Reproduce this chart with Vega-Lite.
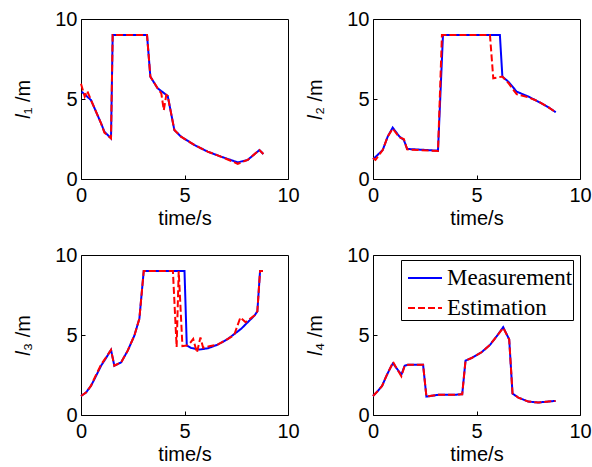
{
  "$schema": "https://vega.github.io/schema/vega-lite/v6.json",
  "autosize": {"type": "pad"},
  "padding": {"left": 13, "top": 8, "right": 0, "bottom": 0},
  "background": "white",
  "datasets": {
    "d": [
      {"p": 1, "s": "Measurement", "t": 0.03, "v": 5.46},
      {"p": 1, "s": "Measurement", "t": 0.48, "v": 4.94},
      {"p": 1, "s": "Measurement", "t": 0.97, "v": 3.48},
      {"p": 1, "s": "Measurement", "t": 1.13, "v": 2.96},
      {"p": 1, "s": "Measurement", "t": 1.45, "v": 2.54},
      {"p": 1, "s": "Measurement", "t": 1.53, "v": 9.0},
      {"p": 1, "s": "Measurement", "t": 3.19, "v": 9.0},
      {"p": 1, "s": "Measurement", "t": 3.35, "v": 6.4},
      {"p": 1, "s": "Measurement", "t": 3.7, "v": 5.67},
      {"p": 1, "s": "Measurement", "t": 4.19, "v": 5.19},
      {"p": 1, "s": "Measurement", "t": 4.51, "v": 3.06},
      {"p": 1, "s": "Measurement", "t": 4.83, "v": 2.65},
      {"p": 1, "s": "Measurement", "t": 5.47, "v": 2.13},
      {"p": 1, "s": "Measurement", "t": 6.12, "v": 1.71},
      {"p": 1, "s": "Measurement", "t": 6.76, "v": 1.4},
      {"p": 1, "s": "Measurement", "t": 7.57, "v": 1.04},
      {"p": 1, "s": "Measurement", "t": 8.05, "v": 1.19},
      {"p": 1, "s": "Measurement", "t": 8.62, "v": 1.81},
      {"p": 1, "s": "Measurement", "t": 8.81, "v": 1.56},

      {"p": 1, "s": "Estimation", "t": 0.0, "v": 5.95},
      {"p": 1, "s": "Estimation", "t": 0.18, "v": 5.15},
      {"p": 1, "s": "Estimation", "t": 0.3, "v": 5.5},
      {"p": 1, "s": "Estimation", "t": 0.48, "v": 4.94},
      {"p": 1, "s": "Estimation", "t": 0.97, "v": 3.48},
      {"p": 1, "s": "Estimation", "t": 1.13, "v": 2.9},
      {"p": 1, "s": "Estimation", "t": 1.45, "v": 2.54},
      {"p": 1, "s": "Estimation", "t": 1.53, "v": 9.0},
      {"p": 1, "s": "Estimation", "t": 3.19, "v": 9.0},
      {"p": 1, "s": "Estimation", "t": 3.35, "v": 6.4},
      {"p": 1, "s": "Estimation", "t": 3.7, "v": 5.67},
      {"p": 1, "s": "Estimation", "t": 3.88, "v": 5.35},
      {"p": 1, "s": "Estimation", "t": 4.0, "v": 4.3},
      {"p": 1, "s": "Estimation", "t": 4.12, "v": 5.25},
      {"p": 1, "s": "Estimation", "t": 4.19, "v": 5.19},
      {"p": 1, "s": "Estimation", "t": 4.51, "v": 3.06},
      {"p": 1, "s": "Estimation", "t": 4.83, "v": 2.65},
      {"p": 1, "s": "Estimation", "t": 5.47, "v": 2.13},
      {"p": 1, "s": "Estimation", "t": 6.12, "v": 1.71},
      {"p": 1, "s": "Estimation", "t": 6.76, "v": 1.4},
      {"p": 1, "s": "Estimation", "t": 7.57, "v": 0.95},
      {"p": 1, "s": "Estimation", "t": 8.05, "v": 1.19},
      {"p": 1, "s": "Estimation", "t": 8.62, "v": 1.81},
      {"p": 1, "s": "Estimation", "t": 8.81, "v": 1.56},

      {"p": 2, "s": "Measurement", "t": 0.0, "v": 1.23},
      {"p": 2, "s": "Measurement", "t": 0.47, "v": 1.81},
      {"p": 2, "s": "Measurement", "t": 0.71, "v": 2.65},
      {"p": 2, "s": "Measurement", "t": 0.95, "v": 3.21},
      {"p": 2, "s": "Measurement", "t": 1.28, "v": 2.65},
      {"p": 2, "s": "Measurement", "t": 1.49, "v": 2.44},
      {"p": 2, "s": "Measurement", "t": 1.65, "v": 1.88},
      {"p": 2, "s": "Measurement", "t": 3.14, "v": 1.77},
      {"p": 2, "s": "Measurement", "t": 3.38, "v": 9.0},
      {"p": 2, "s": "Measurement", "t": 6.13, "v": 9.0},
      {"p": 2, "s": "Measurement", "t": 6.25, "v": 6.4},
      {"p": 2, "s": "Measurement", "t": 6.54, "v": 6.08},
      {"p": 2, "s": "Measurement", "t": 6.94, "v": 5.46},
      {"p": 2, "s": "Measurement", "t": 7.51, "v": 5.15},
      {"p": 2, "s": "Measurement", "t": 7.99, "v": 4.83},
      {"p": 2, "s": "Measurement", "t": 8.48, "v": 4.48},
      {"p": 2, "s": "Measurement", "t": 8.83, "v": 4.17},

      {"p": 2, "s": "Estimation", "t": 0.0, "v": 1.3},
      {"p": 2, "s": "Estimation", "t": 0.12, "v": 1.2},
      {"p": 2, "s": "Estimation", "t": 0.47, "v": 1.81},
      {"p": 2, "s": "Estimation", "t": 0.71, "v": 2.65},
      {"p": 2, "s": "Estimation", "t": 0.95, "v": 3.15},
      {"p": 2, "s": "Estimation", "t": 1.28, "v": 2.6},
      {"p": 2, "s": "Estimation", "t": 1.49, "v": 2.5},
      {"p": 2, "s": "Estimation", "t": 1.65, "v": 1.85},
      {"p": 2, "s": "Estimation", "t": 3.14, "v": 1.75},
      {"p": 2, "s": "Estimation", "t": 3.33, "v": 9.0},
      {"p": 2, "s": "Estimation", "t": 5.65, "v": 9.0},
      {"p": 2, "s": "Estimation", "t": 5.81, "v": 6.3},
      {"p": 2, "s": "Estimation", "t": 6.25, "v": 6.4},
      {"p": 2, "s": "Estimation", "t": 6.54, "v": 6.0},
      {"p": 2, "s": "Estimation", "t": 6.94, "v": 5.3},
      {"p": 2, "s": "Estimation", "t": 7.51, "v": 5.1},
      {"p": 2, "s": "Estimation", "t": 7.99, "v": 4.85},
      {"p": 2, "s": "Estimation", "t": 8.48, "v": 4.48},
      {"p": 2, "s": "Estimation", "t": 8.83, "v": 4.17},

      {"p": 3, "s": "Measurement", "t": 0.0, "v": 1.19},
      {"p": 3, "s": "Measurement", "t": 0.24, "v": 1.4},
      {"p": 3, "s": "Measurement", "t": 0.48, "v": 1.82},
      {"p": 3, "s": "Measurement", "t": 0.65, "v": 2.24},
      {"p": 3, "s": "Measurement", "t": 0.97, "v": 3.08},
      {"p": 3, "s": "Measurement", "t": 1.21, "v": 3.56},
      {"p": 3, "s": "Measurement", "t": 1.45, "v": 4.07},
      {"p": 3, "s": "Measurement", "t": 1.61, "v": 3.08},
      {"p": 3, "s": "Measurement", "t": 1.94, "v": 3.29},
      {"p": 3, "s": "Measurement", "t": 2.26, "v": 4.03},
      {"p": 3, "s": "Measurement", "t": 2.58, "v": 4.97},
      {"p": 3, "s": "Measurement", "t": 2.82, "v": 6.02},
      {"p": 3, "s": "Measurement", "t": 3.03, "v": 9.0},
      {"p": 3, "s": "Measurement", "t": 5.0, "v": 9.0},
      {"p": 3, "s": "Measurement", "t": 5.11, "v": 4.34},
      {"p": 3, "s": "Measurement", "t": 5.32, "v": 4.19},
      {"p": 3, "s": "Measurement", "t": 5.73, "v": 4.09},
      {"p": 3, "s": "Measurement", "t": 6.13, "v": 4.17},
      {"p": 3, "s": "Measurement", "t": 6.61, "v": 4.4},
      {"p": 3, "s": "Measurement", "t": 7.1, "v": 4.76},
      {"p": 3, "s": "Measurement", "t": 7.74, "v": 5.39},
      {"p": 3, "s": "Measurement", "t": 8.39, "v": 6.23},
      {"p": 3, "s": "Measurement", "t": 8.52, "v": 6.48},
      {"p": 3, "s": "Measurement", "t": 8.65, "v": 9.0},
      {"p": 3, "s": "Measurement", "t": 8.79, "v": 9.0},

      {"p": 3, "s": "Estimation", "t": 0.0, "v": 1.19},
      {"p": 3, "s": "Estimation", "t": 0.24, "v": 1.4},
      {"p": 3, "s": "Estimation", "t": 0.48, "v": 1.82},
      {"p": 3, "s": "Estimation", "t": 0.65, "v": 2.3},
      {"p": 3, "s": "Estimation", "t": 0.97, "v": 3.15},
      {"p": 3, "s": "Estimation", "t": 1.21, "v": 3.6},
      {"p": 3, "s": "Estimation", "t": 1.45, "v": 4.07},
      {"p": 3, "s": "Estimation", "t": 1.61, "v": 3.08},
      {"p": 3, "s": "Estimation", "t": 1.94, "v": 3.29},
      {"p": 3, "s": "Estimation", "t": 2.26, "v": 4.03},
      {"p": 3, "s": "Estimation", "t": 2.58, "v": 4.97},
      {"p": 3, "s": "Estimation", "t": 2.82, "v": 6.02},
      {"p": 3, "s": "Estimation", "t": 3.03, "v": 9.0},
      {"p": 3, "s": "Estimation", "t": 4.44, "v": 9.0},
      {"p": 3, "s": "Estimation", "t": 4.62, "v": 4.25},
      {"p": 3, "s": "Estimation", "t": 4.72, "v": 9.0},
      {"p": 3, "s": "Estimation", "t": 4.9, "v": 4.3},
      {"p": 3, "s": "Estimation", "t": 5.1, "v": 4.34},
      {"p": 3, "s": "Estimation", "t": 5.3, "v": 4.55},
      {"p": 3, "s": "Estimation", "t": 5.42, "v": 4.75},
      {"p": 3, "s": "Estimation", "t": 5.6, "v": 3.9},
      {"p": 3, "s": "Estimation", "t": 5.77, "v": 4.85},
      {"p": 3, "s": "Estimation", "t": 5.9, "v": 4.2},
      {"p": 3, "s": "Estimation", "t": 6.2, "v": 4.3},
      {"p": 3, "s": "Estimation", "t": 6.6, "v": 4.4},
      {"p": 3, "s": "Estimation", "t": 7.1, "v": 4.76},
      {"p": 3, "s": "Estimation", "t": 7.4, "v": 5.0},
      {"p": 3, "s": "Estimation", "t": 7.7, "v": 6.1},
      {"p": 3, "s": "Estimation", "t": 7.95, "v": 5.8},
      {"p": 3, "s": "Estimation", "t": 8.39, "v": 6.23},
      {"p": 3, "s": "Estimation", "t": 8.52, "v": 6.48},
      {"p": 3, "s": "Estimation", "t": 8.65, "v": 9.0},
      {"p": 3, "s": "Estimation", "t": 8.79, "v": 9.0},

      {"p": 4, "s": "Measurement", "t": 0.0, "v": 1.19},
      {"p": 4, "s": "Measurement", "t": 0.24, "v": 1.51},
      {"p": 4, "s": "Measurement", "t": 0.44, "v": 1.82},
      {"p": 4, "s": "Measurement", "t": 0.65, "v": 2.45},
      {"p": 4, "s": "Measurement", "t": 0.89, "v": 3.08},
      {"p": 4, "s": "Measurement", "t": 0.97, "v": 3.23},
      {"p": 4, "s": "Measurement", "t": 1.13, "v": 2.94},
      {"p": 4, "s": "Measurement", "t": 1.37, "v": 2.52},
      {"p": 4, "s": "Measurement", "t": 1.53, "v": 3.08},
      {"p": 4, "s": "Measurement", "t": 1.69, "v": 3.14},
      {"p": 4, "s": "Measurement", "t": 2.42, "v": 3.14},
      {"p": 4, "s": "Measurement", "t": 2.58, "v": 1.15},
      {"p": 4, "s": "Measurement", "t": 3.15, "v": 1.26},
      {"p": 4, "s": "Measurement", "t": 3.95, "v": 1.26},
      {"p": 4, "s": "Measurement", "t": 4.31, "v": 1.3},
      {"p": 4, "s": "Measurement", "t": 4.47, "v": 3.4},
      {"p": 4, "s": "Measurement", "t": 4.76, "v": 3.56},
      {"p": 4, "s": "Measurement", "t": 5.24, "v": 3.92},
      {"p": 4, "s": "Measurement", "t": 5.65, "v": 4.38},
      {"p": 4, "s": "Measurement", "t": 5.97, "v": 4.91},
      {"p": 4, "s": "Measurement", "t": 6.29, "v": 5.49},
      {"p": 4, "s": "Measurement", "t": 6.58, "v": 4.72},
      {"p": 4, "s": "Measurement", "t": 6.74, "v": 1.34},
      {"p": 4, "s": "Measurement", "t": 7.02, "v": 1.09},
      {"p": 4, "s": "Measurement", "t": 7.5, "v": 0.84},
      {"p": 4, "s": "Measurement", "t": 7.98, "v": 0.78},
      {"p": 4, "s": "Measurement", "t": 8.47, "v": 0.84},
      {"p": 4, "s": "Measurement", "t": 8.82, "v": 0.88},

      {"p": 4, "s": "Estimation", "t": 0.0, "v": 1.19},
      {"p": 4, "s": "Estimation", "t": 0.24, "v": 1.51},
      {"p": 4, "s": "Estimation", "t": 0.44, "v": 1.82},
      {"p": 4, "s": "Estimation", "t": 0.65, "v": 2.45},
      {"p": 4, "s": "Estimation", "t": 0.89, "v": 3.08},
      {"p": 4, "s": "Estimation", "t": 0.97, "v": 3.32},
      {"p": 4, "s": "Estimation", "t": 1.13, "v": 2.94},
      {"p": 4, "s": "Estimation", "t": 1.37, "v": 2.42},
      {"p": 4, "s": "Estimation", "t": 1.53, "v": 3.08},
      {"p": 4, "s": "Estimation", "t": 1.69, "v": 3.14},
      {"p": 4, "s": "Estimation", "t": 2.42, "v": 3.14},
      {"p": 4, "s": "Estimation", "t": 2.58, "v": 1.15},
      {"p": 4, "s": "Estimation", "t": 3.15, "v": 1.26},
      {"p": 4, "s": "Estimation", "t": 3.95, "v": 1.26},
      {"p": 4, "s": "Estimation", "t": 4.31, "v": 1.3},
      {"p": 4, "s": "Estimation", "t": 4.47, "v": 3.4},
      {"p": 4, "s": "Estimation", "t": 4.76, "v": 3.56},
      {"p": 4, "s": "Estimation", "t": 5.24, "v": 3.92},
      {"p": 4, "s": "Estimation", "t": 5.65, "v": 4.38},
      {"p": 4, "s": "Estimation", "t": 5.97, "v": 4.91},
      {"p": 4, "s": "Estimation", "t": 6.29, "v": 5.45},
      {"p": 4, "s": "Estimation", "t": 6.58, "v": 4.72},
      {"p": 4, "s": "Estimation", "t": 6.74, "v": 1.34},
      {"p": 4, "s": "Estimation", "t": 7.02, "v": 1.09},
      {"p": 4, "s": "Estimation", "t": 7.5, "v": 0.84},
      {"p": 4, "s": "Estimation", "t": 7.98, "v": 0.78},
      {"p": 4, "s": "Estimation", "t": 8.47, "v": 0.84},
      {"p": 4, "s": "Estimation", "t": 8.82, "v": 0.88}
    ]
  },
  "columns": 2,
  "spacing": {"row": 76, "column": 85},
  "bounds": "flush",
  "resolve": {
    "scale": {"color": "independent", "strokeDash": "independent"},
    "legend": {"color": "independent", "strokeDash": "independent"}
  },
  "concat": [
    {
      "width": 207, "height": 160,
      "data": {"name": "d"},
      "transform": [{"filter": "datum.p == 1"}],
      "encoding": {
        "x": {"field": "t", "type": "quantitative", "scale": {"domain": [0, 10], "nice": false}, "axis": {"values": [0, 5, 10], "title": "time/s"}},
        "y": {"field": "v", "type": "quantitative", "scale": {"domain": [0, 10], "nice": false}, "axis": {"values": [0, 5, 10], "title": "𝑙₁ /m"}},
        "color": {"field": "s", "type": "nominal", "scale": {"domain": ["Measurement", "Estimation"], "range": ["#0000ff", "#ff0000"]}, "legend": null},
        "strokeDash": {"field": "s", "type": "nominal", "scale": {"domain": ["Measurement", "Estimation"], "range": [[1, 0], [7, 3]]}, "legend": null}
      },
      "layer": [
        {"transform": [{"filter": "datum.s == 'Measurement'"}], "mark": {"type": "line", "strokeWidth": 2}},
        {"transform": [{"filter": "datum.s == 'Estimation'"}], "mark": {"type": "line", "strokeWidth": 2}}
      ]
    },
    {
      "width": 207, "height": 160,
      "data": {"name": "d"},
      "transform": [{"filter": "datum.p == 2"}],
      "encoding": {
        "x": {"field": "t", "type": "quantitative", "scale": {"domain": [0, 10], "nice": false}, "axis": {"values": [0, 5, 10], "title": "time/s"}},
        "y": {"field": "v", "type": "quantitative", "scale": {"domain": [0, 10], "nice": false}, "axis": {"values": [0, 5, 10], "title": "𝑙₂ /m"}},
        "color": {"field": "s", "type": "nominal", "scale": {"domain": ["Measurement", "Estimation"], "range": ["#0000ff", "#ff0000"]}, "legend": null},
        "strokeDash": {"field": "s", "type": "nominal", "scale": {"domain": ["Measurement", "Estimation"], "range": [[1, 0], [7, 3]]}, "legend": null}
      },
      "layer": [
        {"transform": [{"filter": "datum.s == 'Measurement'"}], "mark": {"type": "line", "strokeWidth": 2}},
        {"transform": [{"filter": "datum.s == 'Estimation'"}], "mark": {"type": "line", "strokeWidth": 2}}
      ]
    },
    {
      "width": 207, "height": 160,
      "data": {"name": "d"},
      "transform": [{"filter": "datum.p == 3"}],
      "encoding": {
        "x": {"field": "t", "type": "quantitative", "scale": {"domain": [0, 10], "nice": false}, "axis": {"values": [0, 5, 10], "title": "time/s"}},
        "y": {"field": "v", "type": "quantitative", "scale": {"domain": [0, 10], "nice": false}, "axis": {"values": [0, 5, 10], "title": "𝑙₃ /m"}},
        "color": {"field": "s", "type": "nominal", "scale": {"domain": ["Measurement", "Estimation"], "range": ["#0000ff", "#ff0000"]}, "legend": null},
        "strokeDash": {"field": "s", "type": "nominal", "scale": {"domain": ["Measurement", "Estimation"], "range": [[1, 0], [7, 3]]}, "legend": null}
      },
      "layer": [
        {"transform": [{"filter": "datum.s == 'Measurement'"}], "mark": {"type": "line", "strokeWidth": 2}},
        {"transform": [{"filter": "datum.s == 'Estimation'"}], "mark": {"type": "line", "strokeWidth": 2}}
      ]
    },
    {
      "width": 207, "height": 160,
      "data": {"name": "d"},
      "transform": [{"filter": "datum.p == 4"}],
      "encoding": {
        "x": {"field": "t", "type": "quantitative", "scale": {"domain": [0, 10], "nice": false}, "axis": {"values": [0, 5, 10], "title": "time/s"}},
        "y": {"field": "v", "type": "quantitative", "scale": {"domain": [0, 10], "nice": false}, "axis": {"values": [0, 5, 10], "title": "𝑙₄ /m"}},
        "color": {"field": "s", "type": "nominal", "scale": {"domain": ["Measurement", "Estimation"], "range": ["#0000ff", "#ff0000"]},
          "legend": {"orient": "none", "legendX": 28, "legendY": 5, "title": null, "labelFont": "Liberation Serif", "labelFontSize": 23, "labelColor": "black", "symbolType": "stroke", "symbolSize": 1156, "symbolStrokeWidth": 2, "symbolOffset": 6, "fillColor": "white", "strokeColor": "black", "padding": 0, "rowPadding": -10, "labelOffset": 4}},
        "strokeDash": {"field": "s", "type": "nominal", "scale": {"domain": ["Measurement", "Estimation"], "range": [[1, 0], [7, 3]]},
          "legend": {"orient": "none", "legendX": 28, "legendY": 5, "title": null, "labelFont": "Liberation Serif", "labelFontSize": 23, "labelColor": "black", "symbolType": "stroke", "symbolSize": 1156, "symbolStrokeWidth": 2, "symbolOffset": 6, "fillColor": "white", "strokeColor": "black", "padding": 0, "rowPadding": -10, "labelOffset": 4}}
      },
      "layer": [
        {"transform": [{"filter": "datum.s == 'Measurement'"}], "mark": {"type": "line", "strokeWidth": 2}},
        {"transform": [{"filter": "datum.s == 'Estimation'"}], "mark": {"type": "line", "strokeWidth": 2}}
      ]
    }
  ],
  "config": {
    "font": "Liberation Sans",
    "view": {"stroke": "black", "strokeWidth": 1},
    "axis": {"domain": false, "grid": false, "ticks": true, "tickSize": -4, "tickColor": "black", "labelFontSize": 20, "titleFontSize": 20, "labelColor": "black", "titleColor": "black", "titleFontWeight": "normal", "labelFont": "Liberation Sans", "titleFont": "Liberation Sans", "labelFlush": false, "labelOverlap": false, "labelPadding": 8},
    "axisX": {"titlePadding": 3, "labelPadding": 10},
    "axisY": {"titlePadding": 21}
  }
}
